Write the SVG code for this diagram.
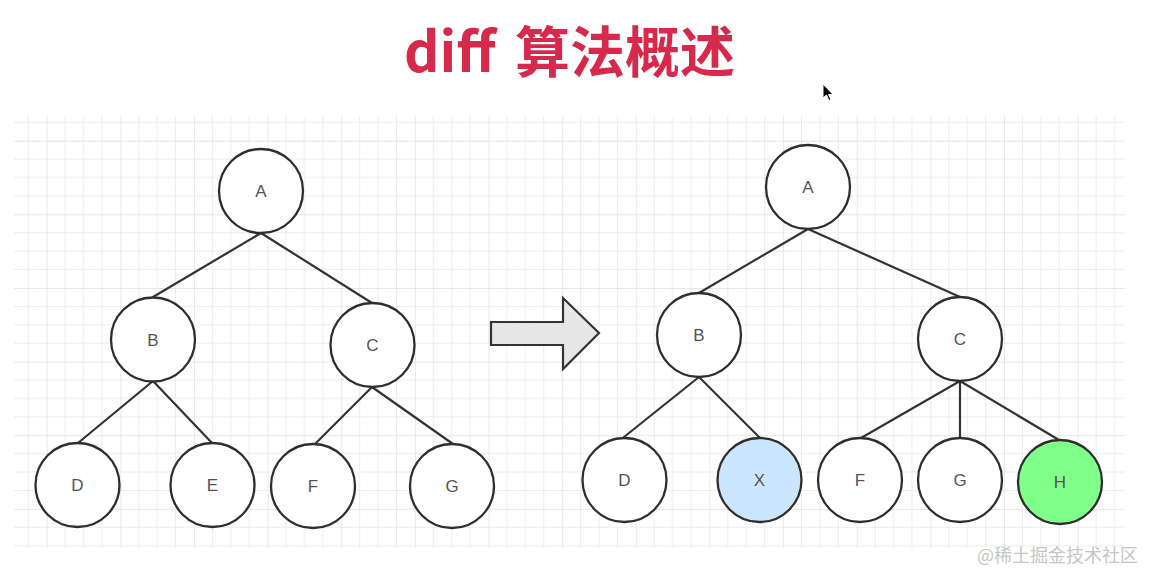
<svg xmlns="http://www.w3.org/2000/svg" width="1156" height="584" viewBox="0 0 1156 584">
  <style>
    .node circle { stroke: #2e2e2e; stroke-width: 2.3; fill: #fff; }
    .node text { font-family: "Liberation Sans", Arial, sans-serif; font-size: 17px; fill: #555; text-anchor: middle; }
    .edges line { stroke: #333; stroke-width: 2.2; stroke-linecap: round; }
    .title { font-family: "Noto Sans CJK SC", "Noto Sans", sans-serif; font-weight: 700; font-size: 55px; fill: #d6294b; }
    .wm { font-family: "Noto Sans CJK SC", sans-serif; font-size: 18px; fill: #c6c6c6; }
  </style>
  <defs>
    <pattern id="grid" patternUnits="userSpaceOnUse" x="46.7" y="140.7" width="73.64" height="73.64">
      <g stroke="#ececec" stroke-width="1">
        <line x1="18.41" y1="0" x2="18.41" y2="73.64"/>
        <line x1="36.82" y1="0" x2="36.82" y2="73.64"/>
        <line x1="55.23" y1="0" x2="55.23" y2="73.64"/>
        <line x1="0" y1="18.41" x2="73.64" y2="18.41"/>
        <line x1="0" y1="36.82" x2="73.64" y2="36.82"/>
        <line x1="0" y1="55.23" x2="73.64" y2="55.23"/>
      </g>
      <g stroke="#dedede" stroke-width="1.3">
        <line x1="0" y1="0" x2="0" y2="73.64"/>
        <line x1="0" y1="0" x2="73.64" y2="0"/>
      </g>
    </pattern>
  </defs>

  <rect width="1156" height="584" fill="#fff"/>
  <text class="title" y="72"><tspan x="404">diff</tspan><tspan x="515">算法概述</tspan></text>

  <rect x="14" y="116" width="1111" height="432" fill="url(#grid)"/>

  <!-- cursor -->
  <path d="M823,84 L823,98 L826.5,95 L829,100.5 L831,99.5 L828.5,94.5 L833,94.5 Z" fill="#000" stroke="#fff" stroke-width="1"/>

  <g class="edges">
    <line x1="261" y1="233" x2="153" y2="297"/>
    <line x1="261" y1="233" x2="372" y2="303"/>
    <line x1="153" y1="381" x2="78" y2="443"/>
    <line x1="153" y1="381" x2="212" y2="443"/>
    <line x1="372" y1="387" x2="315" y2="444"/>
    <line x1="372" y1="387" x2="453" y2="444"/>

    <line x1="808" y1="229" x2="699" y2="293"/>
    <line x1="808" y1="229" x2="960" y2="297"/>
    <line x1="699" y1="377" x2="624" y2="437"/>
    <line x1="699" y1="377" x2="760" y2="438"/>
    <line x1="960" y1="381" x2="861" y2="438"/>
    <line x1="960" y1="381" x2="960" y2="438"/>
    <line x1="960" y1="381" x2="1059" y2="440"/>
  </g>

  <g id="arrow">
    <path d="M491,322 L563,322 L563,298 L599,333 L563,369 L563,345 L491,345 Z" fill="#e6e6e6" stroke="#333" stroke-width="2.2" stroke-linejoin="miter"/>
  </g>

  <g id="L-A" class="node"><circle cx="261" cy="191" r="42"/><text x="261" y="197">A</text></g>
  <g id="L-B" class="node"><circle cx="153" cy="339.5" r="42"/><text x="153" y="345.5">B</text></g>
  <g id="L-C" class="node"><circle cx="372.5" cy="345" r="42"/><text x="372.5" y="351">C</text></g>
  <g id="L-D" class="node"><circle cx="77.5" cy="485" r="42"/><text x="77.5" y="491">D</text></g>
  <g id="L-E" class="node"><circle cx="212.5" cy="485" r="42"/><text x="212.5" y="491">E</text></g>
  <g id="L-F" class="node"><circle cx="313" cy="486" r="42"/><text x="313" y="492">F</text></g>
  <g id="L-G" class="node"><circle cx="452" cy="486" r="42"/><text x="452" y="492">G</text></g>

  <g id="R-A" class="node"><circle cx="808" cy="187" r="42"/><text x="808" y="193">A</text></g>
  <g id="R-B" class="node"><circle cx="699" cy="335" r="42"/><text x="699" y="341">B</text></g>
  <g id="R-C" class="node"><circle cx="960" cy="339" r="42"/><text x="960" y="345">C</text></g>
  <g id="R-D" class="node"><circle cx="624.5" cy="480" r="42"/><text x="624.5" y="486">D</text></g>
  <g id="R-X" class="node"><circle cx="759.5" cy="480" r="42" style="fill:#cce5ff"/><text x="759.5" y="486">X</text></g>
  <g id="R-F" class="node"><circle cx="860" cy="480" r="42"/><text x="860" y="486">F</text></g>
  <g id="R-G" class="node"><circle cx="960" cy="480" r="42"/><text x="960" y="486">G</text></g>
  <g id="R-H" class="node"><circle cx="1060" cy="482" r="42" style="fill:#80ff8a"/><text x="1060" y="488">H</text></g>

  <text class="wm" x="977" y="562">@稀土掘金技术社区</text>
</svg>
